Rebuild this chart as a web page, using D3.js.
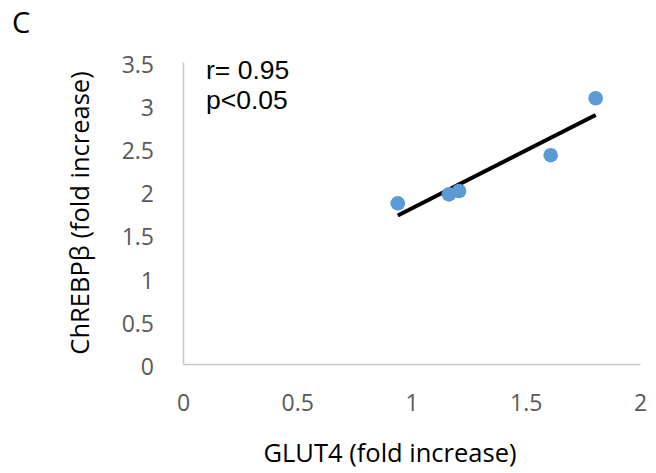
<!DOCTYPE html>
<html>
<head>
<meta charset="utf-8">
<script src="https://cdn.jsdelivr.net/npm/d3@7"></script>
<style>
  html, body { margin: 0; padding: 0; background: #fff; }
  svg { display: block; font-family: "Open Sans", "Noto Sans", sans-serif; }
</style>
</head>
<body>
<svg id="chart" width="656" height="473"></svg>
<script>
// GLUT4 vs ChREBPβ fold increase, one point per sample
const glut4 = [0.94, 1.164, 1.208, 1.609, 1.806];
const chrebpb = [1.862, 1.966, 2.005, 2.42, 3.08];
const xTicks = [0, 0.5, 1, 1.5, 2];
const yTicks = [0, 0.5, 1, 1.5, 2, 2.5, 3, 3.5];
const statLines = ["r= 0.95", "p<0.05"];

const svg = d3.select("#chart");
const plot = { left: 183, right: 640, top: 62, bottom: 364 };

const x = d3.scaleLinear().domain([0, 2]).range([plot.left, plot.right]);
const y = d3.scaleLinear().domain([0, 3.5]).range([plot.bottom, plot.top]);

// axes: light grey domain lines, no tick marks
const xAxis = svg.append("g")
  .attr("transform", `translate(0,${plot.bottom})`)
  .call(d3.axisBottom(x).tickValues(xTicks).tickSize(0).tickPadding(31)
    .tickFormat(d3.format("")));
const yAxis = svg.append("g")
  .attr("transform", `translate(${plot.left},0)`)
  .call(d3.axisLeft(y).tickValues(yTicks).tickSize(0).tickPadding(29)
    .tickFormat(d3.format("")));

[xAxis, yAxis].forEach(g => {
  g.select(".domain").attr("stroke", "#c9c9c9").attr("stroke-width", 1.6);
  g.selectAll(".tick text")
    .attr("fill", "#595959")
    .style("font-size", "23px")
    .style("font-family", "\"Open Sans\", sans-serif");
});
yAxis.selectAll(".tick text").attr("dy", "0.45em");

// least-squares trend line over the observed range
const n = glut4.length;
const mx = d3.mean(glut4), my = d3.mean(chrebpb);
let sxy = 0, sxx = 0;
for (let i = 0; i < n; i++) {
  sxy += (glut4[i] - mx) * (chrebpb[i] - my);
  sxx += (glut4[i] - mx) ** 2;
}
const slope = sxy / sxx, intercept = my - slope * mx;
const [x0, x1] = d3.extent(glut4);

svg.append("line")
  .attr("x1", x(x0)).attr("y1", y(intercept + slope * x0))
  .attr("x2", x(x1)).attr("y2", y(intercept + slope * x1))
  .attr("stroke", "#000").attr("stroke-width", 4);

// data points
svg.append("g").selectAll("circle")
  .data(glut4.map((g, i) => [g, chrebpb[i]]))
  .join("circle")
  .attr("cx", d => x(d[0]))
  .attr("cy", d => y(d[1]))
  .attr("r", 7.3)
  .attr("fill", "#5b9bd5");

// statistics annotation, one line per statistic (compact line metrics)
svg.append("g").selectAll("text")
  .data(statLines)
  .join("text")
  .attr("x", 206)
  .attr("y", (d, i) => 79 + i * 30)
  .attr("fill", "#000")
  .style("font-family", "\"Liberation Sans\", Arial, sans-serif")
  .style("font-size", "26.5px")
  .text(d => d);

// axis titles
svg.append("text")
  .attr("x", 390).attr("y", 462)
  .attr("text-anchor", "middle")
  .attr("fill", "#000")
  .style("font-size", "25.5px")
  .text("GLUT4 (fold increase)");

svg.append("text")
  .attr("transform", "translate(89,213) rotate(-90)")
  .attr("text-anchor", "middle")
  .attr("fill", "#000")
  .style("font-size", "25.5px")
  .text("ChREBPβ (fold increase)");

// panel letter
svg.append("text")
  .attr("x", 12).attr("y", 33)
  .attr("fill", "#000")
  .style("font-size", "29px")
  .text("C");
</script>
</body>
</html>
